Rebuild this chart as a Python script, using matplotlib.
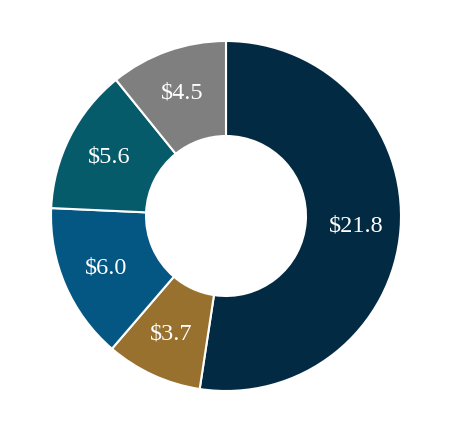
import numpy as np
import matplotlib.pyplot as plt

# segment values, clockwise from 12 o'clock
values = [21.8, 3.7, 6.0, 5.6, 4.5]
labels = ['$21.8', '$3.7', '$6.0', '$5.6', '$4.5']
colors = ['#032a43', '#98712f', '#045683', '#065b6b', '#7f7f7f']

fig = plt.figure(figsize=(4.5, 4.3), dpi=100)
ax = fig.add_axes([0, 0, 1, 1])

wedges, _ = ax.pie(values, colors=colors, startangle=90, counterclock=False,
                   radius=1.0, wedgeprops=dict(width=0.543, edgecolor='white', linewidth=1.5))

# value labels in the middle of each ring segment
for w, lab in zip(wedges, labels):
    ang = np.deg2rad((w.theta1 + w.theta2) / 2)
    r = 0.745
    ax.text(r * np.cos(ang), r * np.sin(ang), lab.replace('$', r'\$'), ha='center', va='center',
            color='white', fontsize=17.5, family='Liberation Serif')

ax.set_xlim(-226 / 175, 224 / 175)
ax.set_ylim(-214 / 175, 216 / 175)
ax.set_aspect('auto')
ax.axis('off')

fig.savefig('out.png', dpi=100)
